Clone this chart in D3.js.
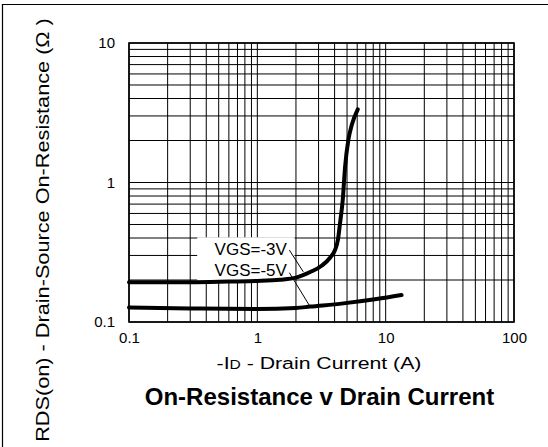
<!DOCTYPE html>
<html>
<head>
<meta charset="utf-8">
<script src="https://cdn.jsdelivr.net/npm/d3@7"></script>
<style>
  body { margin: 0; background: #fff; }
  text { font-family: "Liberation Sans", Arial, sans-serif; fill: #000; }
</style>
</head>
<body>
<div class="canvas"></div>
<script>
// Values
const xTickValues = [0.1, 1, 10, 100];
const xTickLabels = ['0.1', '1', '10', '100'];
const yTickValues = [0.1, 1, 10];
const yTickLabels = ['0.1', '1', '10'];

// -ID (A) and RDS(on) (ohm) for each gate voltage
const vgs3Current = [0.1, 0.3, 0.6, 1.0, 1.5, 2.0, 2.58, 3.19, 3.7, 4.03, 4.25, 4.41, 4.63, 4.83, 5.12, 5.44, 6.06];
const vgs3Rds     = [0.193, 0.193, 0.195, 0.197, 0.201, 0.208, 0.228, 0.254, 0.29, 0.328, 0.39, 0.51, 0.75, 1.3, 2.02, 2.58, 3.35];
const vgs5Current = [0.1, 0.3, 1.0, 2.0, 2.58, 4.68, 8.5, 13.3];
const vgs5Rds     = [0.127, 0.125, 0.124, 0.126, 0.129, 0.136, 0.146, 0.156];

const seriesLabels = ['VGS=-3V', 'VGS=-5V'];
const labelCurrent = [1.7, 1.7];
const labelRds = [0.302, 0.215];
// leader lines: [fromI, fromR, toI, toR]
const leaders = [[1.776, 0.328, 2.28, 0.229], [1.776, 0.2256, 2.58, 0.1287]];

const width = 548, height = 447;
const margin = {top: 43, right: 34, bottom: 125, left: 129};
const graphWidth = width - margin.left - margin.right;
const graphHeight = height - margin.top - margin.bottom;

const svg = d3.select('.canvas')
              .append('svg')
              .attr('width', width)
              .attr('height', height);

// page frame (left and top edges only)
svg.append('line').attr('x1', 2.5).attr('x2', 2.5).attr('y1', 4).attr('y2', height).attr('stroke', '#000').attr('stroke-width', 1.2);
svg.append('line').attr('x1', 2).attr('x2', width).attr('y1', 4.5).attr('y2', 4.5).attr('stroke', '#000').attr('stroke-width', 1.2);

const graph = svg.append('g')
                 .attr('transform', `translate(${margin.left}, ${margin.top})`);

const x = d3.scaleLog().domain([0.1, 100]).range([0, graphWidth]);
const y = d3.scaleLog().domain([0.1, 10]).range([graphHeight, 0]);

// grid
graph.append('g').selectAll('line')
     .data(x.ticks())
     .enter().append('line')
     .attr('x1', d => x(d)).attr('x2', d => x(d))
     .attr('y1', 0).attr('y2', graphHeight)
     .attr('stroke', '#000').attr('stroke-width', 1);

graph.append('g').selectAll('line')
     .data(y.ticks())
     .enter().append('line')
     .attr('x1', 0).attr('x2', graphWidth)
     .attr('y1', d => y(d)).attr('y2', d => y(d))
     .attr('stroke', '#000').attr('stroke-width', 1);

graph.append('rect')
     .attr('width', graphWidth).attr('height', graphHeight)
     .attr('fill', 'none').attr('stroke', '#000').attr('stroke-width', 1.6);

// white patch behind the series labels
graph.append('rect')
     .attr('x', x(0.34)).attr('y', y(0.405))
     .attr('width', x(1.95) - x(0.34))
     .attr('height', y(0.197) - y(0.405))
     .attr('fill', '#fff');

// axes
const xAxis = d3.axisBottom(x).tickValues(xTickValues).tickSize(0).tickPadding(10)
                .tickFormat((d, i) => xTickLabels[i]);
const yAxis = d3.axisLeft(y).tickValues(yTickValues).tickSize(0).tickPadding(14)
                .tickFormat((d, i) => yTickLabels[i]);

const xAxisGroup = graph.append('g').attr('transform', `translate(0, ${graphHeight})`).call(xAxis);
const yAxisGroup = graph.append('g').call(yAxis);
[xAxisGroup, yAxisGroup].forEach(g => {
  g.select('.domain').remove();
  g.selectAll('text').attr('font-size', 15).attr('font-family', '"Liberation Sans", Arial, sans-serif').attr('fill', '#000');
});

// curves
const line = d3.line()
               .x(d => x(d[0]))
               .y(d => y(d[1]))
               .curve(d3.curveMonotoneX);

const series = [d3.zip(vgs3Current, vgs3Rds), d3.zip(vgs5Current, vgs5Rds)];
graph.selectAll('path.curve')
     .data(series)
     .enter().append('path')
     .attr('class', 'curve')
     .attr('d', line)
     .attr('fill', 'none')
     .attr('stroke', '#000')
     .attr('stroke-width', 4)
     .attr('stroke-linecap', 'round');

// labels and leaders
graph.selectAll('text.lbl')
     .data(seriesLabels)
     .enter().append('text')
     .attr('class', 'lbl')
     .attr('x', (d, i) => x(labelCurrent[i]))
     .attr('y', (d, i) => y(labelRds[i]))
     .attr('text-anchor', 'end')
     .attr('font-size', 17)
     .text(d => d);

graph.selectAll('line.leader')
     .data(leaders)
     .enter().append('line')
     .attr('class', 'leader')
     .attr('x1', d => x(d[0])).attr('y1', d => y(d[1]))
     .attr('x2', d => x(d[2])).attr('y2', d => y(d[3]))
     .attr('stroke', '#000').attr('stroke-width', 1);

// axis titles - the original face is wider than Arial, so stretch to the measured length
function stretchTo(sel, target) {
  const w = sel.node().getComputedTextLength();
  return target / w;
}

const xLabelG = svg.append('g');
const xLabel = xLabelG.append('text')
                  .attr('text-anchor', 'middle')
                  .attr('font-size', 17);
xLabel.append('tspan').text('-I');
xLabel.append('tspan').attr('font-size', 12.5).text('D');
xLabel.append('tspan').text(' - Drain Current (A)');
xLabelG.attr('transform', `translate(319, 369) scale(${stretchTo(xLabel, 205)}, 1)`);

const yLabelG = svg.append('g');
const yLabel = yLabelG.append('text')
                  .attr('text-anchor', 'middle')
                  .attr('font-size', 17.5)
                  .text('RDS(on) - Drain-Source On-Resistance (\u03A9 )');
yLabelG.attr('transform', `translate(49, 230) rotate(-90) scale(${stretchTo(yLabel, 424)}, 1)`);

svg.append('text')
   .attr('x', 319.5).attr('y', 405)
   .attr('text-anchor', 'middle')
   .attr('font-size', 24)
   .attr('font-weight', 'bold')
   .text('On-Resistance v Drain Current');
</script>
</body>
</html>
